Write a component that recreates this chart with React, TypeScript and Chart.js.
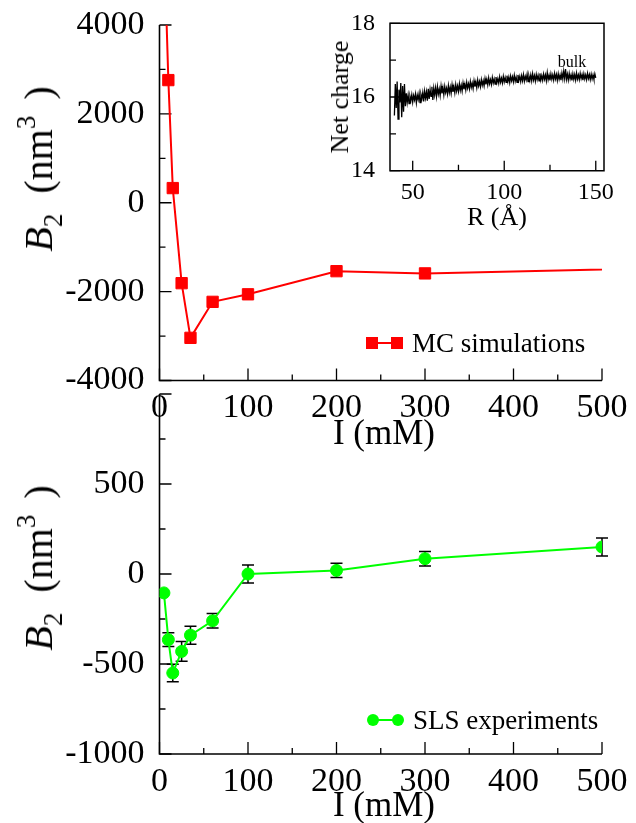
import React, { useEffect, useRef } from 'react';
import { Chart, registerables } from 'chart.js';

Chart.register(...registerables);

const SERIF = "'Liberation Serif', 'Times New Roman', serif";

// ---- Data ----
const MC_I = [5, 10, 15, 25, 35, 60, 100, 200, 300, 1000];
const MC_B2 = [6000, 2760, 330, -1810, -3040, -2230, -2060, -1540, -1590, -1275];

const SLS_I = [5, 10, 15, 25, 35, 60, 100, 200, 300, 500];
const SLS_B2 = [-105, -365, -550, -430, -340, -260, 0, 20, 85, 150];
const SLS_ERR = [0, 38, 48, 55, 50, 40, 50, 40, 40, 50];

const CROSS_I = [10, 35];
const CROSS_B2 = [-365, -340];

const I_TICKS = [0, 100, 200, 300, 400, 500];
const MC_TICKS = [-4000, -2000, 0, 2000, 4000];
const SLS_TICKS = [-1000, -500, 0, 500, 1000];
const R_TICKS = [50, 100, 150];
const Q_TICKS = [14, 16, 18];

const NET_CHARGE: [number, number][] = [
  [40, 15.50], [40.5, 16.35], [41, 15.70], [41.5, 16.42], [42, 15.40], [42.5, 16.20], [43, 15.85], [43.5, 16.38], [44, 15.45], [44.5, 16.30],
  [45, 15.60], [45.5, 16.35], [46, 15.75], [46.5, 16.10], [47, 15.85], [47.5, 16.05], [48, 15.82], [48.5, 16.02], [49, 15.90], [49.5, 16.06],
  [50, 15.86], [50.5, 16.04], [51, 15.92], [51.5, 16.08], [52, 15.84], [52.5, 16.05], [53, 15.93], [53.5, 16.10], [54, 15.85], [54.5, 16.07],
  [55, 15.95], [55.5, 16.12], [56, 15.88], [56.5, 16.16], [57, 15.97], [57.5, 16.14], [58, 15.90], [58.5, 16.22], [59, 15.95], [59.5, 16.20],
  [60, 16.02], [60.5, 16.28], [61, 15.92], [61.5, 16.24], [62, 16.05], [62.5, 16.25], [63, 16.02], [63.5, 16.28], [64, 16.08], [64.5, 16.22],
  [65, 16.04], [65.5, 16.30], [66, 16.10], [66.5, 16.26], [67, 16.06], [67.5, 16.29], [68, 16.12], [68.5, 16.24], [69, 16.08], [69.5, 16.31],
  [70, 16.12], [70.5, 16.27], [71, 16.10], [71.5, 16.33], [72, 16.14], [72.5, 16.28], [73, 16.11], [73.5, 16.34], [74, 16.16], [74.5, 16.30],
  [75, 16.15], [75.5, 16.36], [76, 16.18], [76.5, 16.32], [77, 16.16], [77.5, 16.38], [78, 16.21], [78.5, 16.35], [79, 16.19], [79.5, 16.40],
  [80, 16.24], [80.5, 16.36], [81, 16.22], [81.5, 16.42], [82, 16.26], [82.5, 16.38], [83, 16.23], [83.5, 16.44], [84, 16.28], [84.5, 16.41],
  [85, 16.25], [85.5, 16.46], [86, 16.30], [86.5, 16.42], [87, 16.28], [87.5, 16.47], [88, 16.32], [88.5, 16.44], [89, 16.30], [89.5, 16.50],
  [90, 16.34], [90.5, 16.48], [91, 16.33], [91.5, 16.52], [92, 16.36], [92.5, 16.47], [93, 16.34], [93.5, 16.53], [94, 16.38], [94.5, 16.49],
  [95, 16.35], [95.5, 16.54], [96, 16.39], [96.5, 16.50], [97, 16.37], [97.5, 16.55], [98, 16.40], [98.5, 16.51], [99, 16.38], [99.5, 16.56],
  [100, 16.41], [100.5, 16.53], [101, 16.40], [101.5, 16.58], [102, 16.42], [102.5, 16.54], [103, 16.39], [103.5, 16.57], [104, 16.44], [104.5, 16.55],
  [105, 16.41], [105.5, 16.59], [106, 16.43], [106.5, 16.54], [107, 16.40], [107.5, 16.60], [108, 16.45], [108.5, 16.56], [109, 16.42], [109.5, 16.58],
  [110, 16.44], [110.5, 16.61], [111, 16.43], [111.5, 16.56], [112, 16.46], [112.5, 16.62], [113, 16.42], [113.5, 16.57], [114, 16.45], [114.5, 16.60],
  [115, 16.44], [115.5, 16.63], [116, 16.46], [116.5, 16.58], [117, 16.43], [117.5, 16.61], [118, 16.47], [118.5, 16.59], [119, 16.44], [119.5, 16.64],
  [120, 16.46], [120.5, 16.58], [121, 16.45], [121.5, 16.62], [122, 16.48], [122.5, 16.60], [123, 16.44], [123.5, 16.66], [124, 16.47], [124.5, 16.59],
  [125, 16.45], [125.5, 16.63], [126, 16.48], [126.5, 16.60], [127, 16.46], [127.5, 16.64], [128, 16.49], [128.5, 16.61], [129, 16.45], [129.5, 16.63],
  [130, 16.48], [130.5, 16.60], [131, 16.46], [131.5, 16.65], [132, 16.49], [132.5, 16.70], [133, 16.50], [133.5, 16.76], [134, 16.48], [134.5, 16.62],
  [135, 16.46], [135.5, 16.64], [136, 16.49], [136.5, 16.60], [137, 16.45], [137.5, 16.63], [138, 16.48], [138.5, 16.61], [139, 16.46], [139.5, 16.65],
  [140, 16.49], [140.5, 16.60], [141, 16.47], [141.5, 16.64], [142, 16.50], [142.5, 16.61], [143, 16.46], [143.5, 16.63], [144, 16.49], [144.5, 16.60],
  [145, 16.47], [145.5, 16.64], [146, 16.50], [146.5, 16.61], [147, 16.47], [147.5, 16.62], [148, 16.49], [148.5, 16.60], [149, 16.48], [149.5, 16.63],
  [150, 16.52],
];

// ---- Plugins ----
function midpoints(v: number[]) {
  const out: number[] = [];
  for (let i = 0; i < v.length - 1; i++) out.push((v[i] + v[i + 1]) / 2);
  return out;
}

function makeFrame(o: { xMajor: number[]; yMajor: number[]; major: number; minor: number; box?: boolean; lw?: number }) {
  return {
    id: 'frame',
    beforeDatasetsDraw(chart: any) {
      const { ctx, chartArea: a, scales } = chart;
      const xs = scales.x, ys = scales.y;
      ctx.save();
      ctx.strokeStyle = '#000';
      ctx.lineWidth = o.lw ?? 1.6;
      ctx.beginPath();
      if (o.box) {
        ctx.rect(a.left, a.top, a.right - a.left, a.bottom - a.top);
      } else {
        ctx.moveTo(a.left, a.top);
        ctx.lineTo(a.left, a.bottom);
        ctx.lineTo(a.right, a.bottom);
      }
      ctx.stroke();
      ctx.lineWidth = 1.3;
      ctx.beginPath();
      const xt = (vals: number[], len: number) => vals.forEach((v) => {
        const p = xs.getPixelForValue(v);
        ctx.moveTo(p, a.bottom);
        ctx.lineTo(p, a.bottom - len);
      });
      const yt = (vals: number[], len: number) => vals.forEach((v) => {
        const p = ys.getPixelForValue(v);
        ctx.moveTo(a.left, p);
        ctx.lineTo(a.left + len, p);
      });
      xt(o.xMajor, o.major);
      xt(midpoints(o.xMajor), o.minor);
      yt(o.yMajor, o.major);
      yt(midpoints(o.yMajor), o.minor);
      ctx.stroke();
      ctx.restore();
    },
  };
}

function makeErrorBars(xv: number[], yv: number[], ev: number[]) {
  return {
    id: 'errorBars',
    beforeDatasetsDraw(chart: any) {
      const { ctx, scales } = chart;
      ctx.save();
      ctx.strokeStyle = '#000';
      ctx.lineWidth = 1.5;
      ctx.beginPath();
      xv.forEach((x, i) => {
        const e = ev[i];
        if (!e) return;
        const px = scales.x.getPixelForValue(x);
        const t = scales.y.getPixelForValue(yv[i] + e);
        const b = scales.y.getPixelForValue(yv[i] - e);
        ctx.moveTo(px, t);
        ctx.lineTo(px, b);
        ctx.moveTo(px - 6, t);
        ctx.lineTo(px + 6, t);
        ctx.moveTo(px - 6, b);
        ctx.lineTo(px + 6, b);
      });
      ctx.stroke();
      ctx.restore();
    },
  };
}

// ---- Scale helpers ----
function xScale(ticks: number[], min: number, max: number, size: number, pad: number, h: number) {
  return {
    type: 'linear',
    min,
    max,
    afterBuildTicks: (s: any) => { s.ticks = ticks.map((value) => ({ value })); },
    afterFit: (s: any) => { s.height = h; },
    grid: { display: false },
    border: { display: false },
    ticks: {
      color: '#000',
      font: { family: SERIF, size, lineHeight: 1 },
      padding: pad,
      maxRotation: 0,
      autoSkip: false,
      callback: (v: any) => String(v),
    },
  };
}

function yScale(ticks: number[], min: number, max: number, size: number, pad: number, w: number, hide?: number) {
  return {
    type: 'linear',
    min,
    max,
    afterBuildTicks: (s: any) => { s.ticks = ticks.map((value) => ({ value })); },
    afterFit: (s: any) => { s.width = w; },
    grid: { display: false },
    border: { display: false },
    ticks: {
      color: '#000',
      font: { family: SERIF, size, lineHeight: 1 },
      padding: pad,
      autoSkip: false,
      callback: (v: any) => (v === hide ? '' : String(v)),
    },
  };
}

const baseOpts = {
  responsive: false,
  animation: false,
  devicePixelRatio: 1,
  events: [],
};

// ---- Configs ----
function topConfig(): any {
  return {
    type: 'line',
    data: {
      datasets: [
        {
          label: 'MC simulations',
          data: MC_I.map((x, i) => ({ x, y: MC_B2[i] })),
          borderColor: '#ff0000',
          backgroundColor: '#ff0000',
          borderWidth: 2,
          pointStyle: 'rect',
          pointRadius: 8,
          pointBorderWidth: 1,
          pointBackgroundColor: '#ff0000',
          pointBorderColor: '#ff0000',
          tension: 0,
        },
      ],
    },
    options: {
      ...baseOpts,
      layout: { padding: { left: 0, top: 25, right: 34, bottom: 19.5 } },
      scales: {
        x: xScale(I_TICKS, 0, 500, 34, 3, 40),
        y: yScale(MC_TICKS, -4000, 4000, 34, 7, 159.5),
      },
      plugins: { legend: { display: false }, tooltip: { enabled: false } },
    },
    plugins: [makeFrame({ xMajor: I_TICKS, yMajor: MC_TICKS, major: 12, minor: 6 })],
  };
}

function bottomConfig(): any {
  return {
    type: 'line',
    data: {
      datasets: [
        {
          label: 'SLS experiments',
          data: SLS_I.map((x, i) => ({ x, y: SLS_B2[i] })),
          borderColor: '#00ff00',
          backgroundColor: '#00ff00',
          borderWidth: 2,
          pointStyle: 'circle',
          pointRadius: 6,
          pointBorderWidth: 1,
          pointBackgroundColor: '#00ff00',
          pointBorderColor: '#00ff00',
          tension: 0,
        },
        {
          label: 'crossed',
          data: CROSS_I.map((x, i) => ({ x, y: CROSS_B2[i] })),
          showLine: false,
          pointStyle: 'crossRot',
          pointRadius: 6,
          pointBorderWidth: 1.5,
          pointBorderColor: '#000',
          borderColor: '#000',
        },
      ],
    },
    options: {
      ...baseOpts,
      layout: { padding: { left: 0, top: 10.5, right: 34, bottom: 29 } },
      scales: {
        x: xScale(I_TICKS, 0, 500, 34, 3, 40),
        y: yScale(SLS_TICKS, -1000, 1000, 34, 7, 159.5, 1000),
      },
      plugins: { legend: { display: false }, tooltip: { enabled: false } },
    },
    plugins: [
      makeFrame({ xMajor: I_TICKS, yMajor: SLS_TICKS, major: 12, minor: 6 }),
      makeErrorBars(SLS_I, SLS_B2, SLS_ERR),
    ],
  };
}

function insetConfig(): any {
  return {
    type: 'line',
    data: {
      datasets: [
        {
          label: 'Net charge',
          data: NET_CHARGE.map(([x, y]) => ({ x, y })),
          borderColor: '#000',
          borderWidth: 1.3,
          pointRadius: 0,
          tension: 0,
        },
      ],
    },
    options: {
      ...baseOpts,
      layout: { padding: { left: 0, top: 23.3, right: 32, bottom: 39.3 } },
      scales: {
        x: xScale(R_TICKS, 37.6, 154.5, 24, 2, 30),
        y: yScale(Q_TICKS, 14, 18, 24, 7, 90),
      },
      plugins: { legend: { display: false }, tooltip: { enabled: false } },
    },
    plugins: [makeFrame({ xMajor: R_TICKS, yMajor: Q_TICKS, major: 10, minor: 6, box: true, lw: 1.5 })],
  };
}

// ---- Components ----
function ChartCanvas(props: { left: number; top: number; width: number; height: number; build: () => any }) {
  const ref = useRef<HTMLCanvasElement | null>(null);
  useEffect(() => {
    const chart = new Chart(ref.current as HTMLCanvasElement, props.build());
    return () => chart.destroy();
  }, []);
  return (
    <canvas
      ref={ref}
      width={props.width}
      height={props.height}
      style={{ position: 'absolute', left: props.left, top: props.top, width: props.width, height: props.height }}
    />
  );
}

const abs = (left: number, top: number, extra: any = {}) => ({
  position: 'absolute' as const,
  left,
  top,
  transform: 'translate(-50%, -50%)',
  whiteSpace: 'nowrap' as const,
  lineHeight: 1,
  ...extra,
});

function B2Title({ cx, cy }: { cx: number; cy: number }) {
  return (
    <div style={abs(cx, cy, { fontSize: 40, transform: 'translate(-50%, -50%) rotate(-90deg)' })}>
      <i>B</i>
      <span style={{ fontSize: 27, position: 'relative', top: 10 }}>2</span>
      <span style={{ marginLeft: 20 }}>(nm</span>
      <span style={{ fontSize: 27, position: 'relative', top: -17, marginRight: 16 }}>3</span>
      <span>)</span>
    </div>
  );
}

function LegendEntry(props: { x: number; y: number; color: string; round: boolean; text: string }) {
  const { x, y, color, round, text } = props;
  const mk = (cx: number) => (
    <div
      style={{
        position: 'absolute',
        left: cx - 6,
        top: y - 6,
        width: 12,
        height: 12,
        background: color,
        borderRadius: round ? '50%' : 0,
      }}
    />
  );
  return (
    <>
      <div style={{ position: 'absolute', left: x, top: y - 1, width: 25, height: 2, background: color }} />
      {mk(x)}
      {mk(x + 25)}
      <div style={{ position: 'absolute', left: x + 40, top: y, transform: 'translateY(-50%)', fontSize: 27, lineHeight: 1, whiteSpace: 'nowrap' }}>
        {text}
      </div>
    </>
  );
}

export default function App() {
  return (
    <div
      style={{
        position: 'absolute',
        left: 0,
        top: 0,
        width: 636,
        height: 823,
        background: '#fff',
        fontFamily: SERIF,
        color: '#000',
        overflow: 'hidden',
      }}
    >
      <ChartCanvas left={0} top={0} width={636} height={440} build={topConfig} />
      <ChartCanvas left={0} top={370} width={636} height={453} build={bottomConfig} />
      <ChartCanvas left={300} top={0} width={336} height={240} build={insetConfig} />

      <B2Title cx={39} cy={169} />
      <B2Title cx={39} cy={568} />
      <div style={abs(384, 432, { fontSize: 35 })}>I (mM)</div>
      <div style={abs(384, 804, { fontSize: 35 })}>I (mM)</div>

      <div style={abs(340, 97, { fontSize: 26, transform: 'translate(-50%, -50%) rotate(-90deg)' })}>Net charge</div>
      <div style={abs(497, 217, { fontSize: 26 })}>R (Å)</div>
      <div style={abs(572, 62, { fontSize: 16 })}>bulk</div>

      <LegendEntry x={372} y={343} color="#ff0000" round={false} text="MC simulations" />
      <LegendEntry x={373} y={720} color="#00ff00" round={true} text="SLS experiments" />
    </div>
  );
}
